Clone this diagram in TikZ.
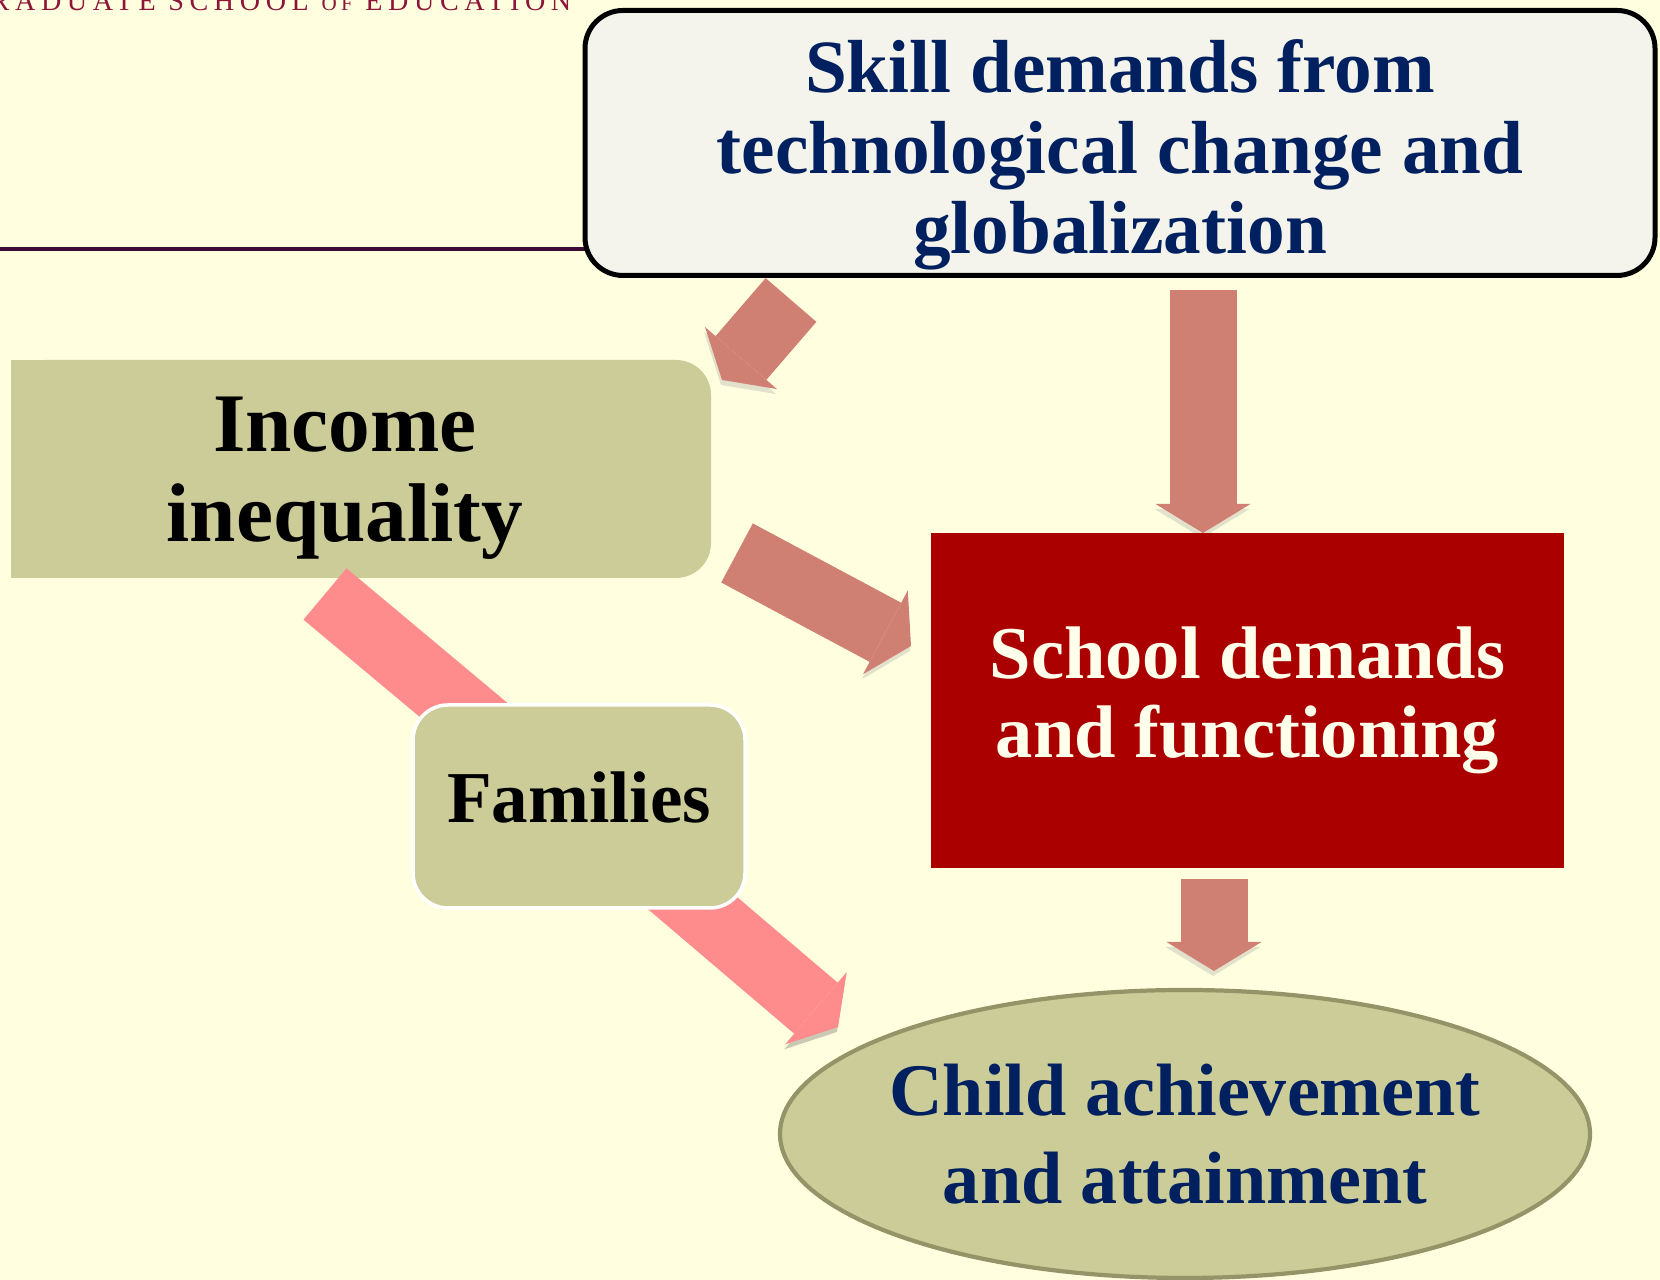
\documentclass[tikz,border=0pt]{standalone}
\usepackage{fontspec}
\setmainfont{Liberation Serif}
\usetikzlibrary{arrows.meta,shapes.geometric,positioning}

\definecolor{slidebg}{RGB}{255,255,224}
\definecolor{crest}{RGB}{140,21,56}
\definecolor{crestline}{RGB}{61,11,51}
\definecolor{navy}{RGB}{0,32,96}
\definecolor{olive}{RGB}{204,204,153}
\definecolor{oliverim}{RGB}{148,148,104}
\definecolor{paper}{RGB}{244,244,236}
\definecolor{schoolred}{RGB}{170,0,0}
\definecolor{cream}{RGB}{255,255,235}
\definecolor{rose}{RGB}{208,128,115}
\definecolor{roseshadow}{RGB}{226,226,204}
\definecolor{pink}{RGB}{255,140,140}
\definecolor{pinkshadow}{RGB}{202,202,180}

\pgfdeclarelayer{back}
\pgfdeclarelayer{mid}
\pgfsetlayers{back,mid,main}

\tikzset{
  box/.style={rectangle, inner sep=0pt, align=center},
  skillbox/.style={box, draw=black, line width=1.42pt, fill=paper, rounded corners=0.38cm,
    minimum width=10.70cm, minimum height=2.65cm, text=navy,
    font=\fontsize{21.4}{22.9}\selectfont\bfseries},
  incbox/.style={box, font=\fontsize{23.7}{25.6}\selectfont\bfseries},
  fambox/.style={box, draw=white, line width=1pt, fill=olive, rounded corners=0.35cm,
    minimum width=3.32cm, minimum height=2.03cm,
    font=\fontsize{20.8}{22}\selectfont\bfseries},
  schoolbox/.style={box, fill=schoolred, minimum width=6.33cm, minimum height=3.35cm,
    text=cream, font=\fontsize{21.2}{22.5}\selectfont\bfseries},
  childbox/.style={ellipse, draw=oliverim, line width=1.2pt, fill=olive,
    inner sep=0pt, inner xsep=-0.15cm, minimum width=8.10cm, minimum height=2.88cm,
    align=center, text=navy, font=\fontsize{21.1}{25}\selectfont\bfseries},
  fat/.style={line width=6.7mm, -{Triangle[width=9.5mm,length=2.9mm,line width=0pt]}},
  redarrow/.style={fat, draw=rose,
    preaction={draw=roseshadow, transform canvas={shift={(-0.01,-0.05)}}}},
  pinkarrow/.style={fat, draw=pink,
    preaction={draw=pinkshadow, transform canvas={shift={(-0.01,-0.05)}}}}
}

\begin{document}
\begin{tikzpicture}
  \useasboundingbox (0,0) rectangle (16.6,12.8);
  \begin{pgfonlayer}{back}
    \fill[slidebg] (0,0) rectangle (16.6,12.8);
  \end{pgfonlayer}

  % header of the slide
  \node[anchor=base east, inner sep=0pt, text=crest,
    font=\addfontfeatures{LetterSpace=20}\fontsize{8}{9}\selectfont] (crest)
    at (5.72,12.693) {GRADUATE SCHOOL {\fontsize{6}{7}\selectfont OF} EDUCATION};
  \draw[crestline, line width=1.1pt] (0,10.31) -- (5.9,10.31);

  % boxes
  \node[skillbox] (skill) at (11.20,11.37)
    {\rule{0pt}{22pt}Skill demands from\\technological change and\\globalization};
  \node[incbox] (inc) at (3.45,8.11) {\rule{0pt}{20.5pt}Income\\inequality};
  \node[fambox] (fam) at (5.79,4.735) {\rule[-5.4pt]{0pt}{5.4pt}Families};
  \node[schoolbox] (school) at (12.475,5.795) {School demands\\and functioning};
  \node[childbox] (child) at (11.85,1.46) {Child achievement\\and attainment};

  \begin{pgfonlayer}{back}
    \fill[olive, rounded corners=0.35cm]
      ([shift={(-3.34,-1.09)}]inc.center) rectangle ([shift={(3.66,1.09)}]inc.center);
    \fill[olive]
      ([shift={(-3.34,-1.09)}]inc.center) rectangle ([shift={(0,1.09)}]inc.center);
  \end{pgfonlayer}

  % arrow ends
  \coordinate (skill-l) at (7.91,9.80);
  \coordinate (inc-in) at (7.22,9.00);
  \coordinate (skill-r) at (12.03,9.90);
  \coordinate (school-in) at (12.03,7.47);
  \coordinate (inc-out) at (7.37,7.27);
  \coordinate (school-l) at (9.11,6.34);
  \coordinate (inc-down) at (3.25,6.86);
  \coordinate (child-l) at (8.38,2.53);
  \coordinate (school-out) at (12.14,4.01);
  \coordinate (child-in) at (12.14,3.09);

  \begin{pgfonlayer}{mid}
    \draw[redarrow] (skill-l) -- (inc-in);
    \draw[redarrow] (skill-r) -- (school-in);
    \draw[redarrow] (inc-out) -- (school-l);
    \draw[redarrow] (school-out) -- (child-in);
    \draw[pinkarrow] (inc-down) -- (fam.center);
    \draw[pinkarrow] (fam.center) -- (child-l);
  \end{pgfonlayer}
\end{tikzpicture}
\end{document}
